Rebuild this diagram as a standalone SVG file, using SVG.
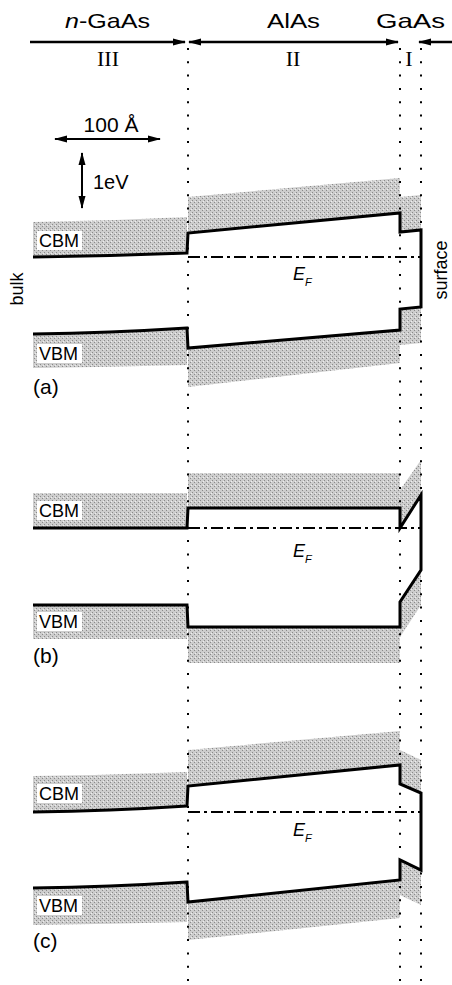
<svg xmlns="http://www.w3.org/2000/svg" width="452" height="985" viewBox="0 0 452 985">
<defs>
<marker id="ah" markerWidth="13" markerHeight="8" refX="12" refY="4" orient="auto-start-reverse" markerUnits="userSpaceOnUse">
<path d="M0,0.5 L13,4 L0,7.5 Z" fill="#000"/>
</marker>
<pattern id="stip" width="4" height="4" patternUnits="userSpaceOnUse">
<rect width="4" height="4" fill="#cdcdcd"/>
<rect x="0" y="0" width="1" height="1" fill="#8a8a8a"/>
<rect x="2" y="2" width="1" height="1" fill="#8a8a8a"/>
<rect x="3" y="1" width="1" height="1" fill="#eeeeee"/>
</pattern>
<style>
.sh{fill:url(#stip);stroke:none}
.band{fill:none;stroke:#000;stroke-width:3;stroke-linejoin:miter}
.ef{fill:none;stroke:#000;stroke-width:2.2;stroke-dasharray:12 4 3 4}
.dot{fill:none;stroke:#000;stroke-width:2;stroke-dasharray:2 11.3}
.t{font-family:"Liberation Sans",Arial,sans-serif;fill:#000}
.r{font-family:"Liberation Serif","Times New Roman",serif;fill:#000}
.box{fill:#fff}
.arr{stroke:#000;fill:none}
</style>
</defs>
<rect width="452" height="985" fill="#fff"/>

<g id="header">
<text class="t" x="65" y="28" font-size="21" textLength="85" lengthAdjust="spacingAndGlyphs"><tspan font-style="italic">n</tspan>-GaAs</text>
<text class="t" x="267" y="28" font-size="21" textLength="53" lengthAdjust="spacingAndGlyphs">AlAs</text>
<text class="t" x="376" y="28" font-size="21" textLength="69" lengthAdjust="spacingAndGlyphs">GaAs</text>
<text class="r" x="108" y="66" font-size="22" text-anchor="middle">III</text>
<text class="r" x="293" y="66" font-size="22" text-anchor="middle">II</text>
<text class="r" x="409" y="66" font-size="22" text-anchor="middle">I</text>
</g>

<g id="scale">
<text class="t" x="111" y="132" font-size="21" text-anchor="middle">100 Å</text>
<text class="t" x="93" y="189" font-size="20">1eV</text>
</g>

<g id="side-labels">
<text class="t" x="0" y="0" font-size="18" text-anchor="middle" transform="translate(23,289) rotate(-90)">bulk</text>
<text class="t" x="0" y="0" font-size="18" text-anchor="middle" transform="translate(447,270) rotate(-90)">surface</text>
</g>

<g id="panel-a">
<path class="sh" d="M33,222 Q110,221 187,217 L187,253 Q110,256 33,257 Z"/>
<path class="sh" d="M33,334 Q110,333 187,328 L187,365 Q110,367 33,368 Z"/>
<path class="sh" d="M188,197 L400,178 L400,213 L188,233 Z"/>
<path class="sh" d="M188,348 L400,330 L400,363 L188,387 Z"/>
<path class="sh" d="M400,197 L421,195 L421,230 L400,232 Z"/>
<path class="sh" d="M400,309 L421,307 L421,343 L400,345 Z"/>
<rect class="box" x="37" y="231" width="45" height="19"/>
<text class="t" x="39" y="247" font-size="18">CBM</text>
<rect class="box" x="37" y="344" width="45" height="19"/>
<text class="t" x="39" y="360" font-size="18">VBM</text>
<path class="ef" d="M188,257 L421,257"/>
<path class="band" d="M33,257 Q110,256 187,253 L188,233 L400,213 L400,232 L421,230 L421,307 L400,309 L400,330 L188,348 L187,328 Q110,333 33,334"/>
<text class="t" x="293" y="280" font-size="18" font-style="italic">E<tspan font-size="11" dy="6">F</tspan></text>
<text class="t" x="33" y="394" font-size="21">(a)</text>
</g>

<g id="panel-b">
<rect class="sh" x="33" y="493" width="154" height="35"/>
<rect class="sh" x="33" y="605" width="154" height="34"/>
<rect class="sh" x="188" y="473" width="212" height="36"/>
<rect class="sh" x="188" y="627" width="212" height="36"/>
<path class="sh" d="M400,490 L421,460 L421,495 L400,528 Z"/>
<path class="sh" d="M400,602 L421,570 L421,605 L400,637 Z"/>
<rect class="box" x="37" y="501" width="45" height="19"/>
<text class="t" x="39" y="517" font-size="18">CBM</text>
<rect class="box" x="37" y="612" width="45" height="19"/>
<text class="t" x="39" y="628" font-size="18">VBM</text>
<path class="ef" d="M188,528 L421,528"/>
<path class="band" d="M33,528 L187,528 L188,508 L400,508 L400,528 L421,495 L421,570 L400,602 L400,627 L188,627 L187,605 L33,605"/>
<text class="t" x="293" y="557" font-size="18" font-style="italic">E<tspan font-size="11" dy="6">F</tspan></text>
<text class="t" x="33" y="663" font-size="21">(b)</text>
</g>

<g id="panel-c">
<path class="sh" d="M33,776 Q110,775 187,772 L187,806 Q110,811 33,812 Z"/>
<path class="sh" d="M33,888 Q110,887 187,882 L187,922 Q110,924 33,925 Z"/>
<path class="sh" d="M188,750 L400,731 L400,765 L188,786 Z"/>
<path class="sh" d="M188,902 L400,880 L400,918 L188,940 Z"/>
<path class="sh" d="M400,750 L421,760 L421,793 L400,784 Z"/>
<path class="sh" d="M400,860 L421,870 L421,905 L400,895 Z"/>
<rect class="box" x="37" y="784" width="45" height="19"/>
<text class="t" x="39" y="800" font-size="18">CBM</text>
<rect class="box" x="37" y="896" width="45" height="19"/>
<text class="t" x="39" y="912" font-size="18">VBM</text>
<path class="ef" d="M188,812 L421,812"/>
<path class="band" d="M33,812 Q110,811 187,806 L188,786 L400,765 L400,784 L421,793 L421,870 L400,860 L400,880 L188,902 L187,882 Q110,887 33,888"/>
<text class="t" x="293" y="836" font-size="18" font-style="italic">E<tspan font-size="11" dy="6">F</tspan></text>
<text class="t" x="33" y="948" font-size="21">(c)</text>
</g>

<g id="connectors">
<path class="arr" stroke-width="2.5" d="M30,42 L185,42" marker-end="url(#ah)"/>
<path class="arr" stroke-width="2.5" d="M189,42 L398,42" marker-start="url(#ah)" marker-end="url(#ah)"/>
<path class="arr" stroke-width="2.5" d="M452,42 L419,42" marker-end="url(#ah)"/>
<path class="arr" stroke-width="2" d="M55,139 L160,139" marker-start="url(#ah)" marker-end="url(#ah)"/>
<path class="arr" stroke-width="2" d="M82,153 L82,208" marker-start="url(#ah)" marker-end="url(#ah)"/>
<path class="dot" d="M188,48 L188,985"/>
<path class="dot" d="M400,48 L400,985"/>
<path class="dot" d="M421,48 L421,985"/>
</g>
</svg>
